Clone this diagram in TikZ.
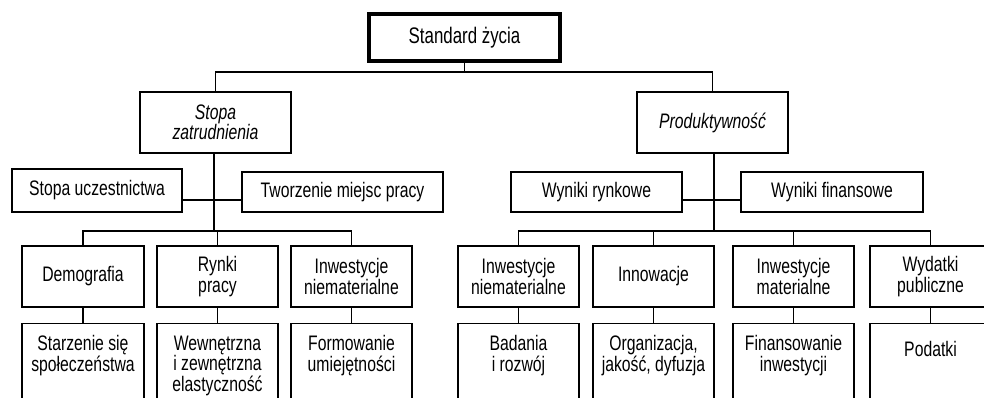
\documentclass[tikz,border=0pt]{standalone}
\usepackage{fontspec}
\setmainfont{Liberation Sans}[FakeStretch=0.75]
\begin{document}
\begin{tikzpicture}[x=1pt,y=-1pt,
  box/.style={draw,line width=1.4pt,inner sep=0pt,align=center,font=\fontsize{21}{20.5}\selectfont},
  topbox/.style={draw,line width=4pt,inner sep=0pt,font=\fontsize{22.5}{23}\selectfont,minimum width=191,minimum height=47},
  conn/.style={line width=1.4pt}]
\useasboundingbox (0,0) rectangle (984,397);
\clip (0,0) rectangle (984,397);
% top
\node[topbox] (top) at (464.5,37.5) {Standard życia};
% level 1
\node[box,minimum width=151,minimum height=61] (stopa) at (215.5,122.5) {\itshape Stopa\\\itshape zatrudnienia};
\node[box,minimum width=151,minimum height=61] (prod) at (712.5,122.5) {\itshape Produktywność};
% level 2
\node[box,minimum width=170,minimum height=43] (uczest) at (97,190.5) {Stopa uczestnictwa};
\node[box,minimum width=201,minimum height=40] (tworz) at (342.5,192) {Tworzenie miejsc pracy};
\node[box,minimum width=171,minimum height=40] (wrynk) at (596.5,192) {Wyniki rynkowe};
\node[box,minimum width=182,minimum height=40] (wfin) at (832,192) {Wyniki finansowe};
% level 3
\tikzset{l3/.style={box,minimum height=61,minimum width=121}}
\node[l3,minimum width=122] (demo) at (83,276.5) {Demografia};
\node[l3] (rynki) at (217.5,276.5) {Rynki\\pracy};
\node[l3] (inwn1) at (351.5,276.5) {Inwestycje\\niematerialne};
\node[l3] (inwn2) at (518.5,276.5) {Inwestycje\\niematerialne};
\node[l3] (innow) at (653.5,276.5) {Innowacje};
\node[l3] (inwm) at (793.5,276.5) {Inwestycje\\materialne};
\node[l3] (wyd) at (930.5,276.5) {Wydatki\\publiczne};
% level 4
\tikzset{l4/.style={box,anchor=north,minimum width=121,minimum height=110}}
\newcommand\lfour[2]{\parbox[c][104pt][t]{#1}{\centering\vspace{9pt}#2}}
\node[l4,minimum width=122] (starz) at (83,323) {\lfour{118pt}{Starzenie się\\społeczeństwa}};
\node[l4] (wewn) at (217.5,323) {\lfour{117pt}{Wewnętrzna\\i zewnętrzna\\elastyczność}};
\node[l4] (formo) at (351.5,323) {\lfour{117pt}{Formowanie\\umiejętności}};
\node[l4] (badan) at (518.5,323) {\lfour{117pt}{Badania\\i rozwój}};
\node[l4] (organ) at (653.5,323) {\lfour{117pt}{Organizacja,\\jakość, dyfuzja}};
\node[l4] (finan) at (793.5,323) {\lfour{117pt}{Finansowanie\\inwestycji}};
\node[l4] (podat) at (930.5,323) {\lfour{117pt}{\mbox{}\\Podatki}};
% junctions
\coordinate (jtop) at (464.5,72);
\coordinate (jl) at (214,200);
\coordinate (jr) at (714,200);
\coordinate (bl) at (214,231);
\coordinate (br) at (714,231);
% connectors
\draw[conn] (top.south) -- (jtop);
\draw[conn] (stopa.north) |- (jtop) -| (prod.north);
\draw[conn] (stopa.south -| bl) -- (bl);
\draw[conn] (prod.south -| br) -- (br);
\draw[conn] (uczest.east |- jl) -- (tworz.west |- jl);
\draw[conn] (wrynk.east |- jr) -- (wfin.west |- jr);
\draw[conn] (demo.north) |- (bl) -| (inwn1.north);
\draw[conn] (rynki.north) -- (rynki.north |- bl);
\draw[conn] (inwn2.north) |- (br) -| (wyd.north);
\draw[conn] (innow.north) -- (innow.north |- br);
\draw[conn] (inwm.north) -- (inwm.north |- br);
\foreach \a/\b in {demo/starz,rynki/wewn,inwn1/formo,inwn2/badan,innow/organ,inwm/finan,wyd/podat}
  \draw[conn] (\a.south) -- (\b.north);
\end{tikzpicture}
\end{document}
